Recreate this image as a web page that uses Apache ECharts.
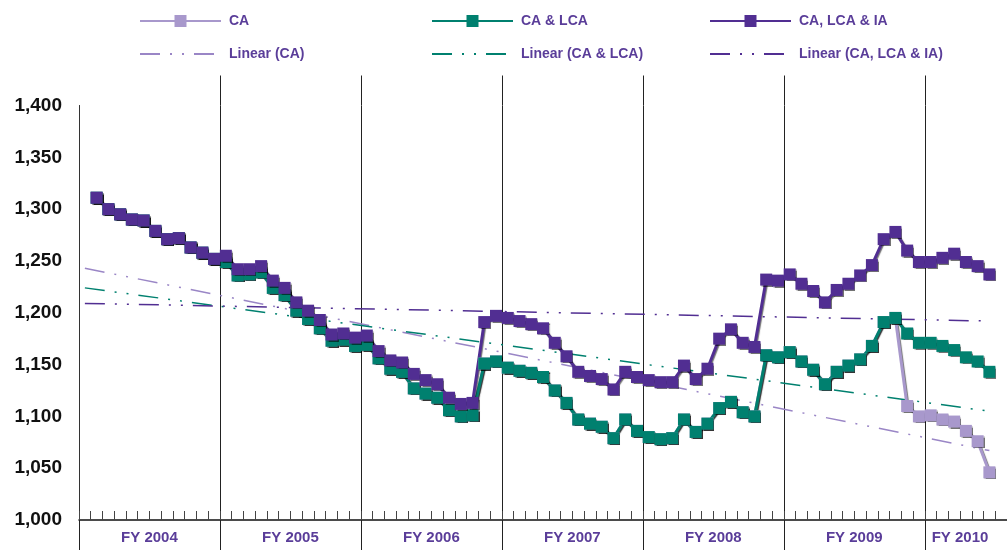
<!DOCTYPE html>
<html>
<head>
<meta charset="utf-8">
<script src="https://cdn.jsdelivr.net/npm/echarts@6/dist/echarts.min.js"></script>
<style>
  html, body { margin: 0; padding: 0; background: #fff; }
  #chart { width: 1007px; height: 550px; }
</style>
</head>
<body>
<div id="chart"></div>
<script>
// fiscal years and months (Oct..Sep); axis runs Oct 2003 .. one slot past Mar 2010
const fiscalYears = ['FY 2004', 'FY 2005', 'FY 2006', 'FY 2007', 'FY 2008', 'FY 2009', 'FY 2010'];
const months = ['Oct', 'Nov', 'Dec', 'Jan', 'Feb', 'Mar', 'Apr', 'May', 'Jun', 'Jul', 'Aug', 'Sep'];
const yTicks = [1000, 1050, 1100, 1150, 1200, 1250, 1300, 1350, 1400];

// monthly values, first slot (Oct 2003) empty
const caValues = [
  null, 1311, 1300, 1295, 1290, 1289, 1279, 1271, 1272, 1263, 1258, 1252,
  1249, 1236, 1237, 1239, 1224, 1217, 1202, 1194, 1185, 1173, 1174, 1168,
  1169, 1156, 1146, 1143, 1127, 1122, 1118, 1106, 1100, 1101, 1151, 1153,
  1147, 1144, 1142, 1138, 1125, 1113, 1097, 1093, 1090, 1079, 1097, 1086,
  1080, 1078, 1079, 1097, 1085, 1093, 1108, 1114, 1104, 1100, 1159, 1157,
  1162, 1153, 1145, 1131, 1143, 1149, 1155, 1168, 1191, 1195, 1110, 1100,
  1101, 1097, 1095, 1086, 1076, 1046
];
const caLcaValues = [
  null, 1311, 1300, 1295, 1290, 1289, 1279, 1271, 1272, 1263, 1258, 1252,
  1249, 1236, 1237, 1239, 1224, 1217, 1202, 1194, 1185, 1173, 1174, 1168,
  1169, 1156, 1146, 1143, 1127, 1122, 1118, 1106, 1100, 1101, 1151, 1153,
  1147, 1144, 1142, 1138, 1125, 1113, 1097, 1093, 1090, 1079, 1097, 1086,
  1080, 1078, 1079, 1097, 1085, 1093, 1108, 1114, 1104, 1100, 1159, 1157,
  1162, 1153, 1145, 1131, 1143, 1149, 1155, 1168, 1191, 1195, 1180, 1171,
  1171, 1168, 1164, 1157, 1153, 1143
];
const caLcaIaValues = [
  null, 1311, 1300, 1295, 1290, 1289, 1279, 1271, 1272, 1263, 1258, 1252,
  1255, 1242, 1242, 1245, 1231, 1224, 1210, 1202, 1193, 1179, 1180, 1176,
  1178, 1163, 1154, 1152, 1141, 1135, 1131, 1118, 1112, 1113, 1191, 1197,
  1195, 1192, 1189, 1185, 1171, 1158, 1143, 1139, 1136, 1126, 1143, 1138,
  1135, 1133, 1133, 1149, 1136, 1146, 1175, 1184, 1171, 1167, 1232, 1231,
  1237, 1228, 1221, 1210, 1222, 1228, 1236, 1246, 1271, 1278, 1260, 1249,
  1249, 1253, 1257, 1249, 1245, 1237
];

// linear trendlines: [value at first slot, value at last point]
const trendCA = [1243, 1067];
const trendCaLca = [1224, 1105];
const trendCaLcaIa = [1209, 1192];

const categories = [];
fiscalYears.forEach(fy => months.forEach(m => categories.push(fy + ' ' + m)));
categories.length = 79;

const lastIdx = caValues.length - 1;
function trendData(ends) {
  const d = caValues.map(() => null);
  d[0] = ends[0];
  d[lastIdx] = ends[1];
  return d;
}

const C_LIGHT = '#A898CC';
const C_TEAL = '#00806F';
const C_DARK = '#512E92';
const TXT = '#5A3D99';
const FONT = 'Liberation Sans';
const labelIdx = [6, 18, 30, 42, 54, 66, 75];

const markShadow = { shadowColor: 'rgba(0,0,0,0.55)', shadowBlur: 1, shadowOffsetX: 1, shadowOffsetY: 1 };

function mainSeries(name, color, data) {
  return {
    name: name, type: 'line', data: data, xAxisIndex: 0,
    symbol: 'rect', symbolSize: 12, showSymbol: true, showAllSymbol: true,
    color: color,
    lineStyle: Object.assign({ width: 3, color: color }, markShadow),
    itemStyle: Object.assign({ color: color }, markShadow),
    z: 3
  };
}
function trendSeries(name, color, ends) {
  return {
    name: name, type: 'line', data: trendData(ends), connectNulls: true,
    symbol: 'none', color: color,
    lineStyle: { width: 1.5, color: color, type: [20, 10, 2, 10, 2, 10] },
    z: 2
  };
}

function legendAt(name, left, top, hideSymbol) {
  const lg = {
    data: [name], left: left, top: top, itemWidth: 81, itemHeight: 15,
    textStyle: { fontFamily: FONT, fontWeight: 'bold', fontSize: 14, color: TXT, padding: [0, 0, 0, 3] }
  };
  if (hideSymbol) lg.itemStyle = { opacity: 0 };
  return lg;
}

const chart = echarts.init(document.getElementById('chart'));
chart.setOption({
  animation: false,
  backgroundColor: '#fff',
  legend: [
    legendAt('CA', 134, 9),
    legendAt('CA & LCA', 426, 9),
    legendAt('CA, LCA & IA', 704, 9),
    legendAt('Linear (CA)', 134, 42, true),
    legendAt('Linear (CA & LCA)', 426, 42, true),
    legendAt('Linear (CA, LCA & IA)', 704, 42, true)
  ],
  grid: { left: 79, top: 105.5, width: 932, height: 414.5 },
  xAxis: [
    {
      type: 'category', data: categories, position: 'bottom',
      axisLine: { show: true, lineStyle: { color: '#111', width: 1.5 } },
      axisTick: { show: true, inside: true, length: 9, interval: 0, lineStyle: { color: '#444' } },
      splitLine: { show: true, interval: (i) => i % 12 === 0, lineStyle: { color: '#222', width: 1 } },
      axisLabel: {
        interval: (i) => labelIdx.indexOf(i) >= 0,
        formatter: (v) => v.slice(0, 7),
        padding: [0, 11.8, 0, 0], margin: 10,
        fontFamily: FONT, fontWeight: 'bold', fontSize: 15, color: TXT
      }
    },
    {
      type: 'category', data: categories, position: 'bottom',
      axisLine: { show: false },
      axisTick: { show: true, inside: false, length: 30, interval: (i) => i % 12 === 0, lineStyle: { color: '#222' } },
      axisLabel: { show: false }, splitLine: { show: false }
    },
    {
      type: 'category', data: categories, position: 'top',
      axisLine: { show: false },
      axisTick: { show: true, inside: false, length: 30, interval: (i) => i > 0 && i % 12 === 0, lineStyle: { color: '#222' } },
      axisLabel: { show: false }, splitLine: { show: false }
    }
  ],
  yAxis: {
    type: 'value', min: yTicks[0], max: yTicks[yTicks.length - 1], interval: 50,
    axisLine: { show: true, lineStyle: { color: '#333' } },
    axisTick: { show: false },
    splitLine: { show: false },
    axisLabel: {
      margin: 17, fontFamily: FONT, fontWeight: 'bold', fontSize: 19, color: '#111',
      formatter: (v) => v.toLocaleString('en-US')
    }
  },
  series: [
    trendSeries('Linear (CA)', '#9A86C6', trendCA),
    trendSeries('Linear (CA & LCA)', C_TEAL, trendCaLca),
    trendSeries('Linear (CA, LCA & IA)', C_DARK, trendCaLcaIa),
    mainSeries('CA', C_LIGHT, caValues),
    mainSeries('CA & LCA', C_TEAL, caLcaValues),
    mainSeries('CA, LCA & IA', C_DARK, caLcaIaValues)
  ]
});
</script>
</body>
</html>
